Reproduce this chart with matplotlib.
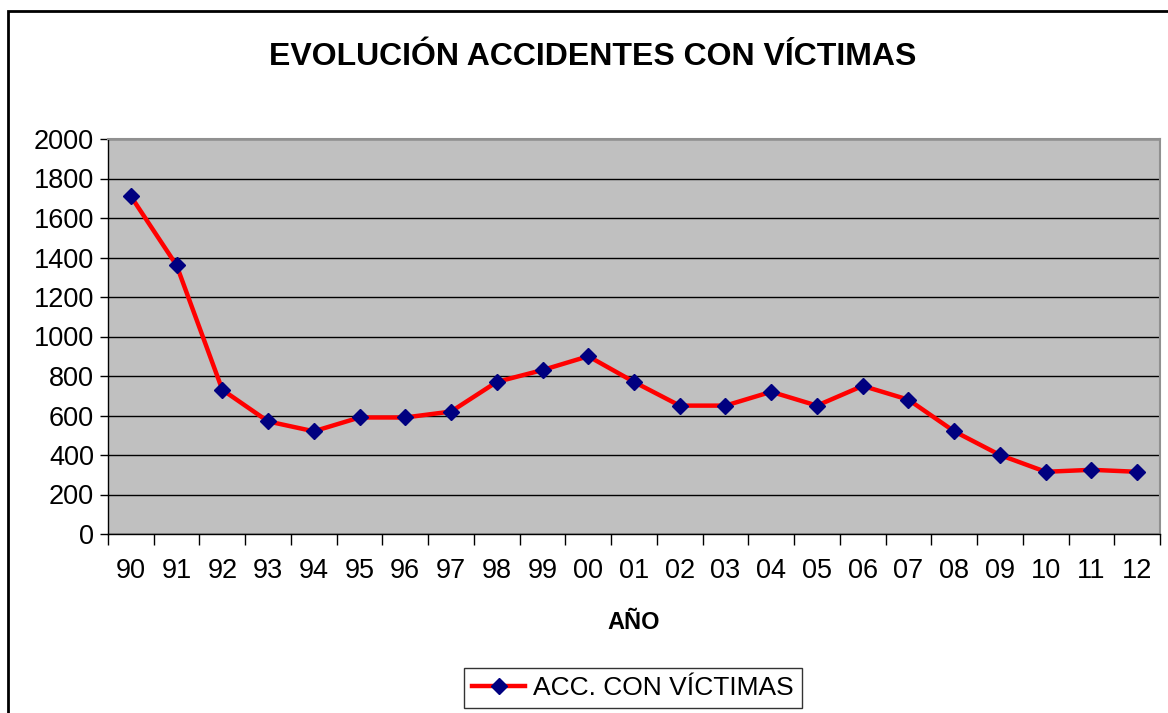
import matplotlib.pyplot as plt
from matplotlib.patches import Rectangle
import numpy as np

plt.rcParams['font.family'] = ['Liberation Sans', 'DejaVu Sans']

years = ["90", "91", "92", "93", "94", "95", "96", "97", "98", "99", "00", "01",
         "02", "03", "04", "05", "06", "07", "08", "09", "10", "11", "12"]
accidentes = [1710, 1360, 730, 570, 520, 590, 590, 620, 770, 830, 900, 770,
              650, 650, 720, 650, 750, 680, 520, 400, 315, 325, 315]

fig = plt.figure(figsize=(11.68, 7.13), dpi=100)
ax = fig.add_axes([108/1168, 1 - 534/713, 1052/1168, 395/713])

x = np.arange(len(years))
ax.plot(x, accidentes, color='#FF0000', lw=3.2, marker='D', markersize=8.5,
        markerfacecolor='#000080', markeredgecolor='#000080',
        label='ACC. CON VÍCTIMAS', zorder=3)

ax.set_facecolor('#C0C0C0')
ax.set_xlim(-0.5, len(years) - 0.5)
ax.set_ylim(0, 2000)
ax.set_yticks(range(0, 2001, 200))
ax.yaxis.grid(True, color='black', lw=1)
ax.set_axisbelow(True)

# category axis: ticks between categories, labels at centers
ax.set_xticks(np.arange(-0.5, len(years), 1))
ax.set_xticklabels([])
ax.set_xticks(x, minor=True)
ax.set_xticklabels(years, minor=True)
ax.tick_params(axis='x', which='major', length=8, width=1, color='black', direction='out')
ax.tick_params(axis='x', which='minor', length=0, labelsize=19.5, pad=17)
ax.tick_params(axis='y', length=6, width=1, labelsize=19.5, pad=4)

for s in ['left', 'bottom']:
    ax.spines[s].set_color('black')
    ax.spines[s].set_linewidth(1)
for s in ['top', 'right']:
    ax.spines[s].set_color('#909090')
    ax.spines[s].set_linewidth(1.5)

ax.set_xlabel('AÑO', fontsize=17, fontweight='bold', labelpad=20)
fig.text(593/1168, 1 - 57/713, 'EVOLUCIÓN ACCIDENTES CON VÍCTIMAS',
         ha='center', va='center', fontsize=23, fontweight='bold')

leg = fig.legend(loc='center', bbox_to_anchor=(633/1168, 1 - 688/713), fontsize=19,
                 frameon=True, fancybox=False, edgecolor='black', handlelength=2.0,
                 borderpad=0.3, handletextpad=0.3, markerscale=0.9)
leg.get_frame().set_linewidth(1)

# outer chart border (extends beyond image on right and bottom)
fig.patches.append(Rectangle((8/1168, -0.1), 1.2, 1 - 11/713 + 0.1,
                             transform=fig.transFigure, fill=False,
                             edgecolor='black', lw=2, zorder=0))

fig.savefig('out.png', dpi=100)
